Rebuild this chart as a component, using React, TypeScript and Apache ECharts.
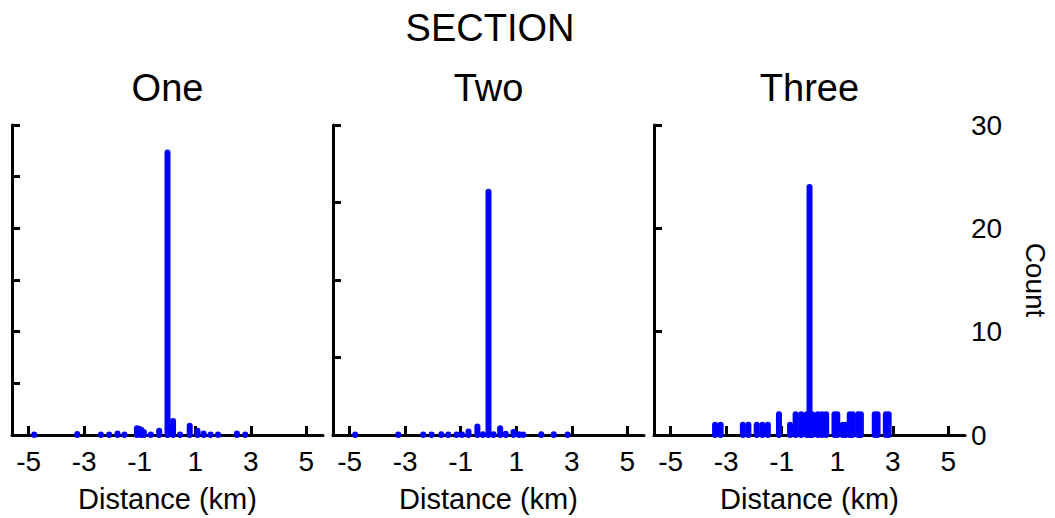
import React, { useEffect, useRef } from "react";
import * as echarts from "echarts";

// Panel titles
const panelTitles = ["One", "Two", "Three"];
const mainTitle = "SECTION";
const xAxisTitle = "Distance (km)";
const yAxisTitle = "Count";
const xTickValues = [-5, -3, -1, 1, 3, 5];

// Panel One: [distance, value] (hidden scale 0-6)
const panelOne: [number, number][] = [
  [-4.8, 0.01], [-3.25, 0.02], [-2.4, 0.01], [-2.1, 0.01], [-1.8, 0.03],
  [-1.55, 0.01], [-1.1, 0.13], [-0.95, 0.1], [-0.85, 0.06], [-0.6, 0.01],
  [-0.3, 0.08], [0, 5.47], [0.2, 0.27], [0.45, 0.01], [0.8, 0.18],
  [1.08, 0.08], [1.3, 0.03], [1.55, 0.01], [1.82, 0.01], [2.5, 0.03], [2.8, 0.01],
];

// Panel Two: [distance, value] (hidden scale 0-4)
const panelTwo: [number, number][] = [
  [-4.8, 0.005], [-3.25, 0.005], [-2.35, 0.005], [-2.05, 0.005], [-1.7, 0.01],
  [-1.45, 0.005], [-1.15, 0.005], [-0.95, 0.005], [-0.72, 0.045], [-0.4, 0.11],
  [-0.2, 0.01], [0, 3.14], [0.18, 0.01], [0.42, 0.086], [0.62, 0.015],
  [0.9, 0.04], [1.1, 0.01], [1.25, 0.005], [1.9, 0.01], [2.35, 0.01], [2.85, 0.005],
];

// Panel Three: [distance, count]
const panelThree: [number, number][] = [
  [-4.9, 0], [-3.4, 1], [-3.2, 1], [-2.4, 1], [-2.2, 1], [-1.9, 1], [-1.7, 1],
  [-1.5, 1], [-1.1, 2], [-0.7, 1], [-0.5, 2], [-0.3, 2], [-0.1, 2], [0, 24],
  [0.1, 2], [0.3, 2], [0.45, 2], [0.6, 2], [0.9, 2], [1.0, 2], [1.2, 1],
  [1.3, 1], [1.45, 2], [1.55, 2], [1.75, 2], [1.85, 2], [2.35, 2], [2.45, 2],
  [2.75, 2], [2.85, 2],
];

const yMax = [6, 4, 30];
const yInterval = [1, 1, 10];
const yTickLabels = ["0", "10", "20", "30"];

const FONT = "'Liberation Sans', Arial, sans-serif";

export default function App() {
  const ref = useRef<HTMLDivElement>(null);
  useEffect(() => {
    if (!ref.current) return;
    const chart = echarts.init(ref.current, null, { renderer: "svg" });
    const panels = [panelOne, panelTwo, panelThree];
    const lefts = [12, 333, 654];
    const width = 311;
    const grids = lefts.map((l) => ({ left: l, width, top: 125, height: 310 }));
    const xAxes = lefts.map((_, i) => ({
      type: "value",
      gridIndex: i,
      min: -5.6,
      max: 5.6,
      axisLine: { show: true, onZero: false, lineStyle: { color: "#000", width: 3 } },
      axisTick: {
        show: true,
        inside: true,
        length: 9,
        customValues: xTickValues,
        lineStyle: { color: "#000", width: 3 },
      },
      axisLabel: {
        show: true,
        customValues: xTickValues,
        color: "#000",
        fontSize: 28,
        fontFamily: FONT,
        margin: 12,
      },
      splitLine: { show: false },
      name: xAxisTitle,
      nameLocation: "middle",
      nameGap: 49,
      nameTextStyle: { color: "#000", fontSize: 29, fontFamily: FONT },
    }));
    const yAxes: any[] = lefts.map((_, i) => ({
      type: "value",
      gridIndex: i,
      position: "left",
      min: 0,
      max: yMax[i],
      interval: yInterval[i],
      axisLine: { show: true, onZero: false, lineStyle: { color: "#000", width: 3 } },
      axisTick: { show: true, inside: true, length: 8, lineStyle: { color: "#000", width: 3 } },
      axisLabel: { show: false },
      splitLine: { show: false },
    }));
    yAxes.push({
      type: "value",
      gridIndex: 2,
      position: "right",
      min: 0,
      max: 30,
      interval: 10,
      axisLine: { show: false, onZero: false },
      axisTick: { show: false },
      axisLabel: {
        show: true,
        color: "#000",
        fontSize: 28,
        fontFamily: FONT,
        margin: 6,
        formatter: (v: number) => yTickLabels[Math.round(v / 10)] ?? String(v),
      },
      splitLine: { show: false },
      name: yAxisTitle,
      nameLocation: "middle",
      nameRotate: -90,
      nameGap: 56,
      nameTextStyle: { color: "#000", fontSize: 28, fontFamily: FONT },
    });
    const series = panels.map((data, i) => ({
      type: "custom",
      xAxisIndex: i,
      yAxisIndex: i,
      data,
      clip: false,
      z: 5,
      renderItem: (_p: any, api: any) => {
        const x = api.value(0);
        const y = api.value(1);
        const p0 = api.coord([x, 0]);
        const p1 = api.coord([x, y]);
        return {
          type: "line",
          shape: { x1: p0[0], y1: p0[1], x2: p1[0], y2: p1[1] },
          style: { stroke: "#0000ff", lineWidth: 6, lineCap: "round" },
        };
      },
    }));
    const graphic: any[] = [
      {
        type: "text",
        x: 490,
        y: 28,
        style: {
          text: mainTitle,
          fontSize: 38,
          fontFamily: FONT,
          fill: "#000",
          textAlign: "center",
          textVerticalAlign: "middle",
        },
      },
      ...panelTitles.map((t, i) => ({
        type: "text",
        x: lefts[i] + width / 2,
        y: 88,
        style: {
          text: t,
          fontSize: 38,
          fontFamily: FONT,
          fill: "#000",
          textAlign: "center",
          textVerticalAlign: "middle",
        },
      })),
    ];
    chart.setOption({
      animation: false,
      backgroundColor: "#fff",
      grid: grids,
      xAxis: xAxes,
      yAxis: yAxes,
      series,
      graphic,
    });
    return () => chart.dispose();
  }, []);
  return (
    <div
      ref={ref}
      style={{ position: "fixed", left: 0, top: 0, width: 1055, height: 518 }}
    />
  );
}
